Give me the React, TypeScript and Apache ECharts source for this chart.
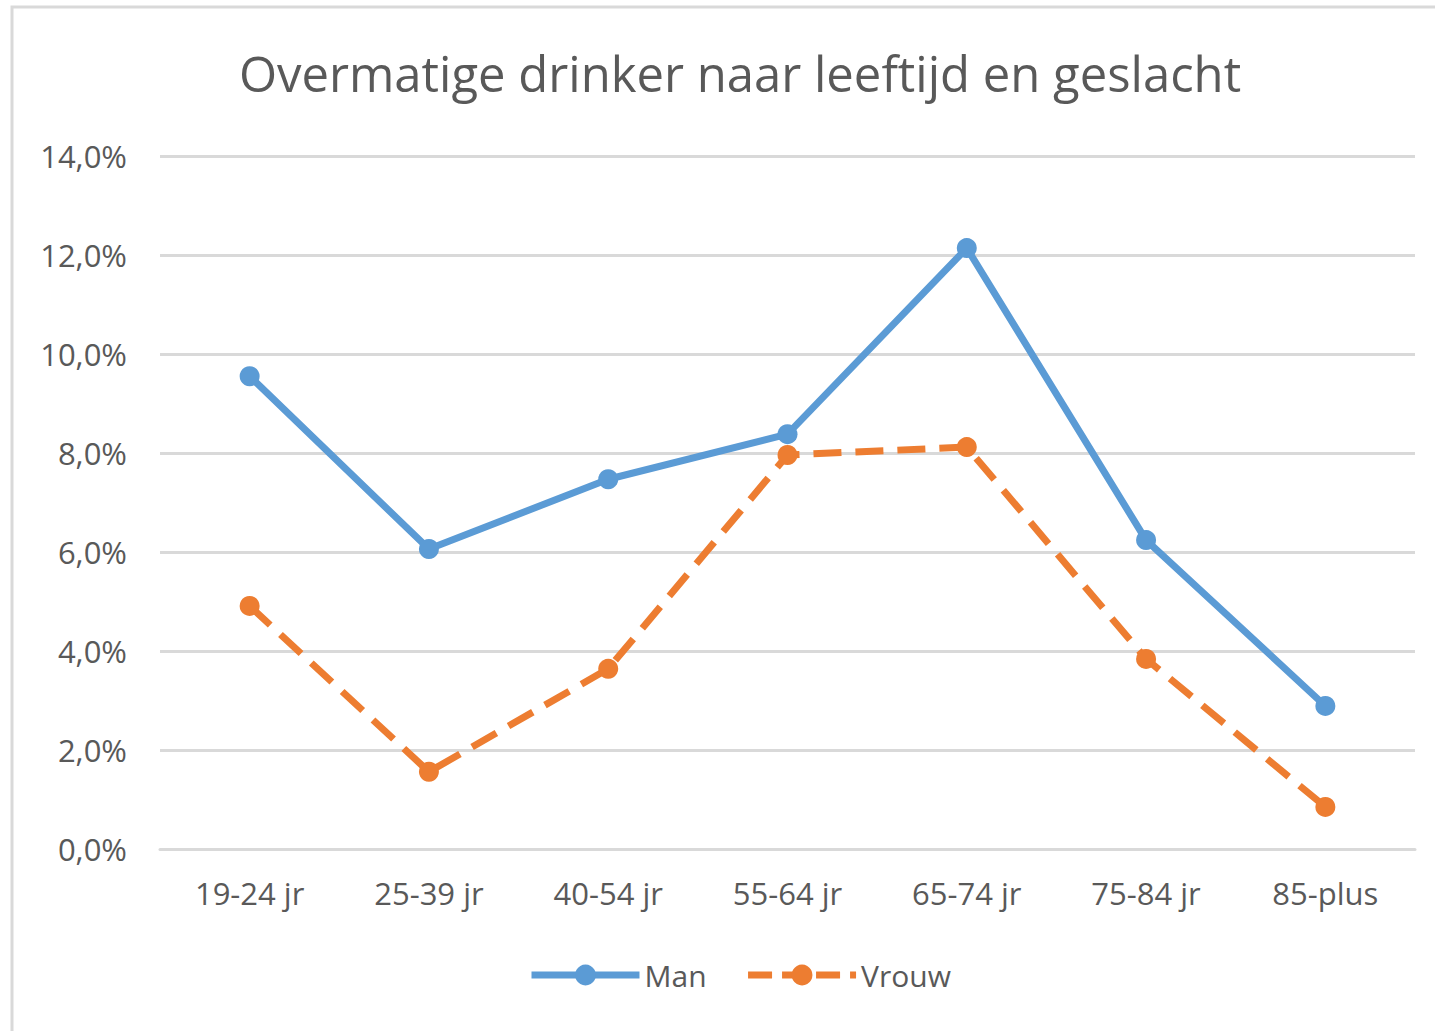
import React, { useEffect, useRef } from "react";
import * as echarts from "echarts";

const categories = ["19-24 jr", "25-39 jr", "40-54 jr", "55-64 jr", "65-74 jr", "75-84 jr", "85-plus"];
const manValues = [9.55, 6.06, 7.47, 8.38, 12.14, 6.24, 2.89];
const vrouwValues = [4.91, 1.56, 3.64, 7.96, 8.12, 3.84, 0.85];
const titleText = "Overmatige drinker naar leeftijd en geslacht";

const FONT = "'Open Sans', 'Noto Sans', sans-serif";
const TEXT = "#595959";
const BLUE = "#5b9bd5";
const ORANGE = "#ed7d31";

export default function App() {
  const ref = useRef<HTMLDivElement>(null);
  useEffect(() => {
    if (!ref.current) return;
    const chart = echarts.init(ref.current, undefined, { renderer: "svg" });
    chart.setOption({
      animation: false,
      backgroundColor: "#ffffff",
      graphic: [
        {
          type: "rect",
          shape: { x: 12, y: 7, width: 1500, height: 1100 },
          style: { fill: "none", stroke: "#d9d9d9", lineWidth: 3 },
          silent: true,
        },
      ],
      title: {
        text: titleText,
        left: 735,
        top: 43,
        textAlign: "center",
        textStyle: { fontFamily: FONT, fontSize: 49, fontWeight: "normal", color: TEXT },
      },
      legend: {
        bottom: 36,
        left: 523,
        itemWidth: 108,
        itemHeight: 26,
        itemGap: 38,
        textStyle: { fontFamily: FONT, fontSize: 30, color: TEXT },
        data: [
          { name: "Man", lineStyle: { width: 7, color: BLUE } },
          { name: "Vrouw", lineStyle: { width: 7, color: ORANGE, type: [24, 10] } },
        ],
      },
      grid: { left: 160, right: 20, top: 156, bottom: 1031 - 849, containLabel: false },
      xAxis: {
        type: "category",
        data: categories,
        boundaryGap: true,
        axisLine: { show: true, lineStyle: { color: "#d9d9d9", width: 3 } },
        axisTick: { show: false },
        axisLabel: { fontFamily: FONT, fontSize: 31, color: TEXT, margin: 28 },
      },
      yAxis: {
        type: "value",
        min: 0,
        max: 14,
        interval: 2,
        axisLine: { show: false },
        axisTick: { show: false },
        splitLine: { lineStyle: { color: "#d9d9d9", width: 3 } },
        axisLabel: {
          fontFamily: FONT,
          fontSize: 31,
          color: TEXT,
          margin: 33,
          formatter: (v: number) => v.toFixed(1).replace(".", ",") + "%",
        },
      },
      series: [
        {
          name: "Man",
          type: "line",
          data: manValues,
          symbol: "circle",
          symbolSize: 20,
          lineStyle: { color: BLUE, width: 7 },
          itemStyle: { color: BLUE },
        },
        {
          name: "Vrouw",
          type: "line",
          data: vrouwValues,
          symbol: "circle",
          symbolSize: 20,
          lineStyle: { color: ORANGE, width: 7, type: [28, 14] },
          itemStyle: { color: ORANGE },
        },
      ],
    });
    return () => chart.dispose();
  }, []);
  return (
    <div
      ref={ref}
      style={{ position: "fixed", left: 0, top: 0, width: 1435, height: 1031, background: "#fff" }}
    />
  );
}
